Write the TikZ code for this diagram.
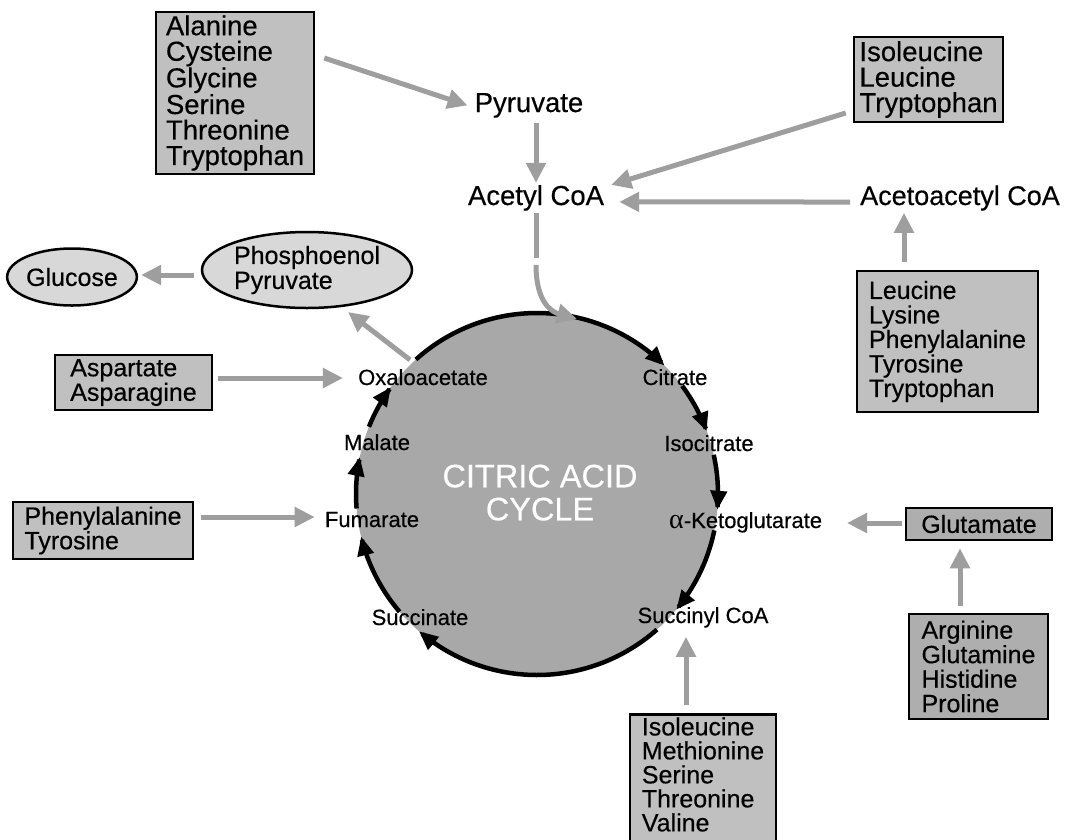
\documentclass[tikz,border=0pt]{standalone}
\usepackage{fontspec}
\setmainfont[FakeBold=0.4]{Liberation Sans}
\newfontfamily\greekserif{Liberation Serif}
\usetikzlibrary{arrows.meta,calc,shapes.geometric}
\definecolor{boxfill}{RGB}{192,192,192}
\definecolor{boxdark}{RGB}{174,174,174}
\definecolor{cycfill}{RGB}{168,168,168}
\definecolor{ellfill}{RGB}{216,216,216}
\definecolor{arrgray}{RGB}{158,158,158}
\tikzset{
  aabox/.style={draw=black, line width=2.5pt, fill=boxfill, align=left, inner sep=0pt, font=\fontsize{25}{24.5}\selectfont},
  bigbox/.style={aabox, font=\fontsize{27.5}{25.5}\selectfont},
  metab/.style={font=\fontsize{27.5}{30}\selectfont, inner sep=2pt, anchor=base},
  cyclab/.style={font=\fontsize{22}{24}\selectfont, inner sep=1pt, anchor=base},
  oval/.style={ellipse, draw=black, line width=2.5pt, fill=ellfill, align=left, inner sep=0pt, font=\fontsize{25}{25}\selectfont},
  feed/.style={draw=arrgray, line width=5pt, -{Triangle[length=20pt,width=19pt]}},
  feedline/.style={draw=arrgray, line width=5pt},
  cycarrow/.style={draw=black, line width=4.5pt, -{Triangle[length=19pt,width=16pt]}},
}
\begin{document}
\begin{tikzpicture}[x=1pt,y=-1pt]
\useasboundingbox (0,0) rectangle (1065,839);
\clip (0,0) rectangle (1065,839);
\fill[white] (0,0) rectangle (1065,839);

% cycle
\coordinate (C) at (537,494);
\fill[cycfill] (C) circle[radius=181];
\draw[cycarrow] plot[domain=228:314.8, samples=60, variable=\t] ({537+181*cos(\t)},{494+181*sin(\t)});
\draw[cycarrow] plot[domain=-36.7:-20.3, samples=20, variable=\t] ({537+181*cos(\t)},{494+181*sin(\t)});
\draw[cycarrow] plot[domain=-12.5:5, samples=20, variable=\t] ({537+181*cos(\t)},{494+181*sin(\t)});
\draw[cycarrow] plot[domain=11.6:39.7, samples=25, variable=\t] ({537+181*cos(\t)},{494+181*sin(\t)});
\draw[cycarrow] plot[domain=48.5:130.7, samples=60, variable=\t] ({537+181*cos(\t)},{494+181*sin(\t)});
\draw[cycarrow] plot[domain=139.4:166.4, samples=25, variable=\t] ({537+181*cos(\t)},{494+181*sin(\t)});
\draw[cycarrow] plot[domain=175.4:191.8, samples=20, variable=\t] ({537+181*cos(\t)},{494+181*sin(\t)});
\draw[cycarrow] plot[domain=201.8:216.2, samples=20, variable=\t] ({537+181*cos(\t)},{494+181*sin(\t)});

\node[font=\fontsize{32.5}{33}\selectfont, text=white, align=center, inner sep=0pt] (cac) at (540,492.6) {CITRIC ACID\\CYCLE};

% cycle labels
\node[cyclab] (cit) at (675,385) {Citrate};
\node[cyclab] (iso) at (709,451) {Isocitrate};
\node[cyclab, anchor=base west] (akg) at (668,528) {{\greekserif\fontsize{28}{28}\selectfont α}-Ketoglutarate};
\node[cyclab] (scoa) at (703,623) {Succinyl CoA};
\node[cyclab] (suc) at (420,625) {Succinate};
\node[cyclab] (fum) at (372,527) {Fumarate};
\node[cyclab] (mal) at (377,450) {Malate};
\node[cyclab] (oaa) at (423,385) {Oxaloacetate};

% metabolites
\node[metab] (pyr) at (529,112) {Pyruvate};
\node[metab] (acoa) at (536,205) {Acetyl CoA};
\node[metab, font=\fontsize{27}{30}\selectfont] (aacoa) at (960,205) {Acetoacetyl CoA};

% ovals
\node[oval, minimum width=122pt, minimum height=57pt] (glc) at (72,277) {Glucose};
\node[oval, minimum width=210pt, minimum height=76pt] (pep) at (307,270) {Phosphoenol\\Pyruvate};

% amino acid boxes
\node[bigbox, minimum width=158pt, minimum height=162pt] (b1) at (235,93) {Alanine\\Cysteine\\Glycine\\Serine\\Threonine\\Tryptophan};
\node[bigbox, minimum width=149pt, minimum height=85pt] (b2) at (928.5,79.5) {Isoleucine\\Leucine\\Tryptophan};
\node[aabox, minimum width=181pt, minimum height=141pt] (b3) at (947.5,341.5) {Leucine\\Lysine\\Phenylalanine\\Tyrosine\\Tryptophan};
\node[aabox, minimum width=157pt, minimum height=55pt] (asp) at (133.5,382.5) {Aspartate\\Asparagine};
\node[aabox, minimum width=180pt, minimum height=57pt] (phe) at (103,530.5) {Phenylalanine\\Tyrosine};
\node[aabox, fill=boxdark, minimum width=146pt, minimum height=32pt] (glu) at (979,524) {Glutamate};
\node[aabox, fill=boxdark, minimum width=139pt, minimum height=105pt] (arg) at (978.5,666.5) {Arginine\\Glutamine\\Histidine\\Proline};
\node[aabox, minimum width=146pt, inner ysep=3pt, text depth=30pt, anchor=north, font=\fontsize{25}{24}\selectfont] (b4) at (703,713) {Isoleucine\\Methionine\\Serine\\Threonine\\Valine};

% feeder arrows
\draw[feed] ([shift={(9,-35)}]b1.east) -- ([shift={(-5,0)}]pyr.west);
\draw[feed, shorten <=3pt] (acoa.north |- pyr.south) -- (acoa.north);
\draw[feed] ([shift={(-7,33.5)}]b2.west) -- ([shift={(5,-13)}]acoa.east);
\draw[feed] ([shift={(-8,4)}]aacoa.west) -- ([shift={(13,4)}]acoa.east);
\coordinate (b3top) at ([shift={(-43.5,-8)}]b3.north);
\draw[feed] (b3top) -- (b3top |- aacoa.south);
\coordinate (akgin) at (847,523);
\draw[feed] ([shift={(-3,-1)}]glu.west) -- (akgin);
\coordinate (argtop) at ([shift={(-18.5,-7)}]arg.north);
\draw[feed, shorten >=7pt] (argtop) -- (argtop |- glu.south);
\coordinate (b4top) at (686,705);
\draw[feed, shorten >=8pt] (b4top) -- (b4top |- scoa.south);
\coordinate (aspout) at ([shift={(5,-4.5)}]asp.east);
\draw[feed, shorten >=14pt] (aspout) -- (aspout -| oaa.west);
\coordinate (pheout) at ([shift={(7,-13.5)}]phe.east);
\draw[feed, shorten >=9pt] (pheout) -- (pheout -| fum.west);
\coordinate (pepout) at ([shift={(-7,5)}]pep.west);
\draw[feed, shorten >=3pt] (pepout) -- (pepout -| glc.east);
\draw[feed] ([shift={(-13,-8)}]oaa.north) -- ([shift={(41,42)}]pep.center);

% acetyl CoA into the cycle
\coordinate (entry) at (577,319);
\draw[feedline] (acoa.south) -- ([shift={(0,45)}]acoa.south);
\draw[feed] ([shift={(0,52)}]acoa.south) .. controls +(0,38) and +(-25,-7) .. (entry);
\end{tikzpicture}
\end{document}
